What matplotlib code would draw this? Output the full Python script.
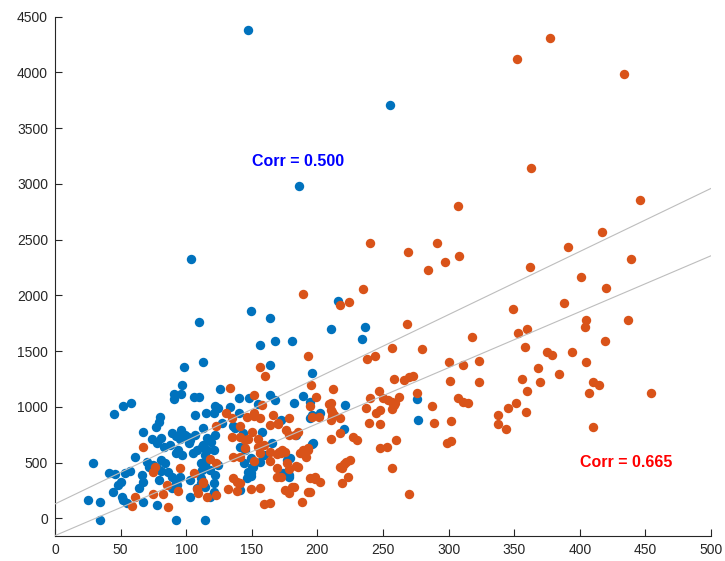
import matplotlib
matplotlib.use("Agg")
import matplotlib.pyplot as plt
import numpy as np

plt.rcParams['font.family'] = ['Liberation Sans', 'DejaVu Sans']

# Group A (blue)
blue_x = [147, 255, 186, 104,
          149, 110, 164, 156, 168, 181,
          113, 164, 98, 196, 210, 236, 234, 216,
          97, 126, 91, 96, 91, 106, 110,
          140, 148, 164, 168, 182, 189, 194,
          122, 124, 121, 133, 140, 155,
          52, 58, 45,
          221, 276, 277, 220,
          115, 107, 107,
          80, 79, 77, 67,
          89, 92, 96, 99, 101, 95, 103,
          127, 113, 136, 137, 143, 158, 165, 159, 116, 119, 121, 113, 116, 122,
          141, 145, 111, 114, 118, 122, 124, 144, 149, 150, 147, 146, 149,
          111, 114, 121, 121, 118, 141, 178, 179, 197, 172,
          74, 78, 81, 83, 88, 92, 94, 97, 102, 105, 108, 112, 114, 116,
          29, 61, 70, 72, 75, 78, 81, 41, 46, 53, 57, 48, 50, 66, 67,
          86, 89, 92, 95, 89, 93, 51, 52, 55, 67, 78, 64, 25, 34,
          34, 92, 114, 103, 111, 112, 108, 103, 81, 84, 44, 79,
          156, 151, 149, 174, 178, 177, 184, 194, 196, 202, 196]
blue_y = [4378, 3712, 2980, 2330,
          1864, 1758, 1798, 1553, 1592, 1592,
          1401, 1377, 1362, 1306, 1700, 1714, 1605, 1948,
          1197, 1159, 1114, 1120, 1072, 1090, 1090,
          1078, 1078, 1108, 1066, 1036, 1100, 1048,
          1010, 990, 949, 995, 949, 1025,
          1012, 1036, 940,
          1021, 1072, 884, 805,
          949, 928, 749,
          913, 868, 823, 776,
          770, 740, 795, 750, 728, 710, 700,
          859, 809, 830, 809, 764, 779, 674, 570, 719, 689, 614, 659, 614, 749,
          644, 614, 500, 480, 435, 390, 480, 495, 540, 465, 420, 360, 381,
          316, 280, 316, 240, 196, 256, 390, 540, 674, 884,
          710, 674, 719, 644, 659, 585, 614, 570, 674, 585, 614, 644, 570, 525,
          495, 549, 509, 465, 480, 450, 429, 411, 399, 411, 429, 300, 330, 390, 330,
          420, 375, 330, 375, 271, 300, 196, 166, 136, 151, 121, 271, 166, 151,
          -13, -13, -13, 196, 360, 435, 271, 345, 525, 495, 235, 345,
          509, 465, 405, 405, 370, 525, 749, 899, 928, 944, 668]

# Group B (orange)
orange_x = [377, 352, 434, 363, 446, 417, 391, 362, 439, 401,
            307, 240, 269, 291, 297, 308, 284, 235, 189, 224, 217,
            268, 318, 257, 280, 193, 238, 244, 156, 160, 300, 311, 323,
            420, 349, 388, 405, 404, 437, 353, 360, 358, 419, 375, 379, 394,
            405, 368, 384, 356, 370, 360, 410, 415, 407, 454, 351, 345, 338,
            338, 344, 359, 410,
            133, 195, 199, 194, 212, 209, 152, 158, 258, 266, 270, 273, 301, 323,
            247, 276, 240, 250, 254, 257, 259, 262, 210, 211, 213, 210, 217,
            237, 245, 248, 257, 258, 239, 248, 287, 307, 311, 315, 289, 302,
            217, 227, 230, 260, 248, 253, 299, 302, 217, 220, 222, 225, 219,
            223, 219, 257, 270, 210,
            130, 135, 123, 141, 146, 152, 156, 166, 164, 170, 178, 196, 201,
            210, 211, 185, 183, 135, 150, 147, 155, 145, 155, 159, 173, 172,
            175, 187, 189, 193, 141, 152, 164, 177, 178, 169, 185, 118, 123,
            169, 172, 194, 198, 202, 136, 139, 141, 113, 132, 139, 149, 156,
            175, 178, 182, 193, 116, 123, 159, 164, 188,
            198, 194, 184, 169, 171, 164, 188, 191, 193, 176, 178, 156, 170,
            152, 181,
            67, 76, 75, 95, 106, 113, 85, 94, 108, 109, 82, 75, 61, 59, 86,
            141, 145, 136]
orange_y = [4307, 4119, 3984, 3141, 2854, 2570, 2435, 2259, 2325, 2169,
            2803, 2474, 2393, 2474, 2298, 2355, 2229, 2056, 2014, 1945, 1918,
            1742, 1631, 1530, 1516, 1458, 1428, 1458, 1358, 1280, 1402, 1376, 1415,
            2065, 1876, 1930, 1781, 1715, 1781, 1661, 1697, 1536, 1592, 1496, 1467, 1496,
            1401, 1347, 1293, 1251, 1227, 1144, 1227, 1198, 1128, 1128, 1033, 994, 928,
            845, 803, 953, 818,
            1173, 1197, 1087, 1012, 1159, 1027, 1110, 1018, 1253, 1240, 1266, 1275, 1236, 1227,
            1146, 1125, 1078, 1078, 1063, 1048, 1033, 1093, 1033, 958, 928, 884, 899,
            990, 950, 970, 979, 1018, 859, 848, 1009, 1078, 1048, 1033, 859, 872,
            764, 734, 704, 707, 630, 644, 680, 694, 465, 489, 509, 525, 450,
            375, 318, 450, 220, 710,
            944, 899, 830, 830, 913, 944, 899, 928, 839, 848, 899, 913, 913,
            973, 919, 779, 749, 734, 779, 710, 710, 630, 644, 659, 614, 585,
            599, 585, 614, 614, 549, 519, 519, 495, 441, 450, 465, 531, 501,
            370, 370, 360, 351, 330, 360, 330, 316, 330, 262, 250, 262, 276,
            256, 226, 280, 240, 190, 211, 130, 142, 151,
            375, 235, 471, 579, 599, 599, 590, 554, 630, 794, 749, 585, 854,
            919, 285,
            644, 465, 420, 450, 411, 316, 300, 250, 262, 226, 217, 220, 190, 112, 100,
            734, 704, 554]

# Least-squares reference lines: (slope, intercept)
fit_upper = (5.66, 130)
fit_lower = (5.02, -154)

corr_labels = ["Corr = 0.500", "Corr = 0.665"]
corr_pos = [(150, 3200), (400, 500)]
corr_colors = ["#0000FF", "#FF0000"]

x_ticks = np.arange(0, 501, 50)
y_ticks = np.arange(0, 4501, 500)

fig = plt.figure(figsize=(7.25, 5.61), dpi=100)
ax = fig.add_axes([0.0759, 0.0451, 0.9048, 0.9251])

ax.scatter(blue_x, blue_y, s=46, color="#0072BD", linewidths=0, zorder=2)
ax.scatter(orange_x, orange_y, s=46, color="#D95319", linewidths=0, zorder=3)

xl = np.array([0, 500])
for slope, icpt in (fit_upper, fit_lower):
    ax.plot(xl, slope * xl + icpt, color="#BDBDBD", lw=0.8, zorder=4)

for txt, (tx, ty), c in zip(corr_labels, corr_pos, corr_colors):
    ax.text(tx, ty, txt, color=c, fontsize=11.5, fontweight="bold",
            ha="left", va="center", zorder=5)

ax.set_xlim(0, 500)
ax.set_ylim(-155, 4500)
ax.set_xticks(x_ticks)
ax.set_yticks(y_ticks)
ax.spines['top'].set_visible(False)
ax.spines['right'].set_visible(False)
for sp in ('left', 'bottom'):
    ax.spines[sp].set_color("#262626")
    ax.spines[sp].set_linewidth(0.8)
ax.tick_params(direction='in', length=5, width=0.8, color="#262626",
               labelcolor="#262626", labelsize=10, pad=5)

fig.savefig("out.png", dpi=100)
